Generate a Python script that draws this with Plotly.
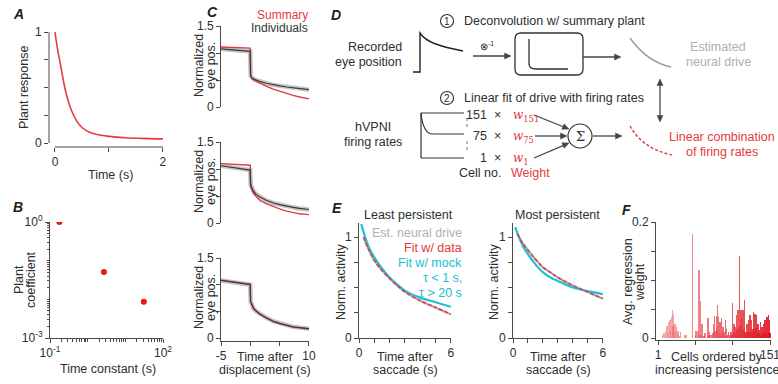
import math
import plotly.graph_objects as go

W, H = 778, 384
RED = "#e53a40"
TXT = "#2e2e2e"
AX = "#4a4a4a"
GREY = "#b0b0b0"
CYAN = "#22bdd6"
FONT = "Liberation Sans, Arial, sans-serif"

# ---------------- data ----------------
# A: plant impulse response
a_time = [0, 0.05, 0.1, 0.2, 0.3, 0.4, 0.5, 0.65, 0.8, 1.0, 1.3, 1.6, 2.0]
a_resp = [1.0, 0.84, 0.71, 0.46, 0.30, 0.20, 0.14, 0.095, 0.075, 0.06, 0.048, 0.042, 0.037]

# B: plant coefficients vs time constants
b_tau = [0.177, 2.7, 31.0]
b_coef = [1.0, 0.051, 0.0087]

# C: eye position, summary vs individuals (3 fish)
c_time = [-5, -0.02, 0.05, 0.25, 0.55, 1.0, 1.65, 2.7, 3.9, 5.0, 6.2, 7.3, 8.4, 10]
c_summary_1 = [1.11, 1.09, 0.60, 0.53, 0.50, 0.475, 0.44, 0.385, 0.33, 0.29, 0.25, 0.215, 0.185, 0.15]
c_indiv_1 = [1.076, 1.03, 0.58, 0.54, 0.52, 0.495, 0.47, 0.44, 0.41, 0.39, 0.37, 0.355, 0.34, 0.32]
c_summary_2 = [1.10, 1.07, 0.68, 0.62, 0.55, 0.49, 0.42, 0.36, 0.30, 0.26, 0.22, 0.19, 0.17, 0.155]
c_indiv_2 = [1.06, 0.98, 0.71, 0.66, 0.59, 0.53, 0.48, 0.42, 0.37, 0.34, 0.31, 0.29, 0.27, 0.25]
c_summary_3 = [1.085, 1.01, 0.69, 0.63, 0.56, 0.51, 0.45, 0.38, 0.31, 0.27, 0.23, 0.205, 0.19, 0.17]
c_indiv_3 = [1.08, 1.00, 0.68, 0.62, 0.55, 0.50, 0.445, 0.38, 0.315, 0.275, 0.24, 0.21, 0.195, 0.175]

# E: neural drive fits
e_time = [0.3, 0.6, 1, 1.5, 2, 2.5, 3, 4, 5, 6]
e_mock_time = [0.15, 0.4, 0.7, 1, 1.5, 2, 2.5, 3, 4, 5, 6]
e_least_drive = [1.0, 0.885, 0.77, 0.67, 0.59, 0.52, 0.46, 0.37, 0.30, 0.235]
e_least_fit = [1.0, 0.89, 0.77, 0.67, 0.59, 0.52, 0.455, 0.37, 0.305, 0.235]
e_least_mock = [1.13, 1.0, 0.88, 0.80, 0.69, 0.60, 0.53, 0.47, 0.40, 0.355, 0.31]
e_most_drive = [1.03, 0.95, 0.87, 0.78, 0.70, 0.65, 0.60, 0.52, 0.455, 0.39]
e_most_fit = [1.03, 0.95, 0.87, 0.78, 0.70, 0.65, 0.60, 0.52, 0.455, 0.39]
e_most_mock = [1.1, 1.0, 0.90, 0.83, 0.73, 0.65, 0.60, 0.565, 0.50, 0.465, 0.435]

# F: average regression weight per cell (ordered by persistence)
f_cells = list(range(1, 152))
f_weights = [
    0, 0, 0, 0, 0, 0, 0.006, 0, 0.009, 0,
    0.013, 0, 0.02, 0.008, 0.028, 0, 0.031, 0.012, 0.036, 0.049,
    0.02, 0.041, 0.01, 0.025, 0, 0.019, 0.005, 0.013, 0, 0.004,
    0.01, 0, 0, 0, 0, 0, 0.006, 0, 0.006, 0,
    0, 0, 0, 0, 0, 0, 0.18, 0, 0, 0,
    0.004, 0.013, 0, 0.012, 0, 0.117, 0.006, 0.064, 0, 0.025,
    0.004, 0, 0.003, 0.008, 0, 0, 0.004, 0.035, 0.006, 0.01,
    0, 0.005, 0, 0.008, 0.025, 0.01, 0.038, 0.012, 0.038, 0.015,
    0.057, 0.036, 0.01, 0.028, 0.006, 0.034, 0.012, 0.019, 0.005, 0.01,
    0.031, 0.004, 0.016, 0.006, 0.01, 0, 0.006, 0.004, 0.01, 0.005,
    0.06, 0.01, 0.025, 0.019, 0.008, 0.039, 0.015, 0.048, 0.014, 0.142,
    0.02, 0.048, 0.034, 0.012, 0.048, 0.015, 0.065, 0.01, 0.008, 0.025,
    0.012, 0.031, 0.01, 0.039, 0.014, 0.031, 0.01, 0.016, 0.045, 0.012,
    0.041, 0.018, 0.039, 0.01, 0.025, 0.008, 0.014, 0.028, 0.006, 0.019,
    0.01, 0.025, 0.008, 0.031, 0.012, 0.006, 0.036, 0.01, 0.039, 0.031, 0.008,
]

# ---------------- helpers ----------------
def dx(p0, p1):
    return [p0 / W, p1 / W]


def dy(top, bottom):
    return [1 - bottom / H, 1 - top / H]


def axis(domain, rng, labeled=None, unlabeled=None, anchor=None, line=True,
         ticks=True, typ="linear", minor_len=4):
    d = dict(domain=domain, range=rng, showgrid=False, zeroline=False,
             showline=line, linecolor=AX, linewidth=1, fixedrange=True,
             automargin=False, type=typ, anchor=anchor,
             tickfont=dict(size=12, color=TXT, family=FONT),
             ticks="outside" if ticks else "", ticklen=4, tickwidth=1,
             tickcolor=AX, ticklabeloverflow="allow")
    if labeled is not None:
        d.update(tickmode="array", tickvals=[v for v, _ in labeled],
                 ticktext=[t for _, t in labeled])
    if unlabeled and ticks:
        d["minor"] = dict(ticks="outside", ticklen=minor_len, tickwidth=1,
                          tickcolor=AX, tickmode="array", tickvals=unlabeled,
                          showgrid=False)
    if not ticks:
        d.update(showticklabels=False)
    return d


fig = go.Figure()


def line_trace(x, y, xa, ya, color, width, dash=None, shape="linear"):
    fig.add_trace(go.Scatter(x=x, y=y, xaxis=xa, yaxis=ya, mode="lines",
                             line=dict(color=color, width=width, dash=dash,
                                       shape=shape),
                             showlegend=False, hoverinfo="skip"))


# A
line_trace(a_time, a_resp, "x", "y", RED, 1.6, shape="spline")
# B
fig.add_trace(go.Scatter(x=b_tau, y=b_coef, xaxis="x2", yaxis="y2", mode="markers",
                         marker=dict(color="#e8161c", size=6), showlegend=False,
                         hoverinfo="skip"))
# C
for i, (summ, ind) in enumerate([(c_summary_1, c_indiv_1),
                                 (c_summary_2, c_indiv_2),
                                 (c_summary_3, c_indiv_3)]):
    xa, ya = f"x{3 + i}", f"y{3 + i}"
    line_trace(c_time, ind, xa, ya, "rgba(150,150,150,0.55)", 4.5)
    line_trace(c_time, summ, xa, ya, RED, 1.4)
    line_trace(c_time, ind, xa, ya, "#3a3a3a", 1.2)
# E
for xa, ya, drive, fit, mock in [("x6", "y6", e_least_drive, e_least_fit, e_least_mock),
                                 ("x7", "y7", e_most_drive, e_most_fit, e_most_mock)]:
    line_trace(e_time, drive, xa, ya, GREY, 2.2, shape="spline")
    line_trace(e_mock_time, mock, xa, ya, CYAN, 2.2, shape="spline")
    line_trace(e_time, fit, xa, ya, RED, 1.5, dash="4px,2px", shape="spline")
# F
n = len(f_cells)
bar_colors = []
for i in range(n):
    f = i / (n - 1)
    r = int(240 - 18 * f)
    g = int(120 - 100 * f)
    b = int(125 - 95 * f)
    a = 0.6 + 0.3 * f
    bar_colors.append(f"rgba({r},{g},{b},{a:.2f})")
fig.add_trace(go.Bar(x=f_cells, y=f_weights, xaxis="x8", yaxis="y8",
                     marker=dict(color=bar_colors, line=dict(width=0)),
                     width=1.9, showlegend=False, hoverinfo="skip"))
# overlay dummy
fig.add_trace(go.Scatter(x=[0], y=[0], xaxis="x9", yaxis="y9", mode="markers",
                         marker=dict(opacity=0), showlegend=False, hoverinfo="skip"))

lay = {}
# A
lay["xaxis"] = axis(dx(49, 163), [-0.111, 2.001], [(0, "0"), (2, "2")], [1], anchor="y", line=False)
lay["yaxis"] = axis(dy(32, 147), [-0.036, 1.001], [(0, "0"), (1, "1")], [0.25, 0.5, 0.75],
                    anchor="x", line=False)
# B
minor_vals = [m * 10.0 ** k for k in range(-3, 2) for m in range(1, 10)]
lay["xaxis2"] = axis(dx(50, 163), [-1, 2], [(0.1, "10<sup>-1</sup>"), (100, "10<sup>2</sup>")],
                     [v for v in minor_vals if 0.1 < v < 100], anchor="y2", typ="log", minor_len=2.5)
lay["yaxis2"] = axis(dy(222, 338), [-3, 0], [(0.001, "10<sup>-3</sup>"), (1, "10<sup>0</sup>")],
                     [v for v in minor_vals if 0.001 < v < 1], anchor="x2", typ="log", minor_len=2.5)
# C
c_rows = [(26, 107, [0, 1.5]), (142, 223, [0, 1.5]), (258, 341, [-0.056, 1.5])]
for i, (t, b, rng) in enumerate(c_rows):
    k = 3 + i
    bottom = i == 2
    lay[f"xaxis{k}"] = axis(dx(221, 309), [-5, 10.01], [(-5, "-5"), (10, "10")], [0, 5],
                            anchor=f"y{k}", line=bottom, ticks=bottom)
    lay[f"yaxis{k}"] = axis(dy(t, b), rng, [(0, "0"), (1.5, "1.5")], [0.5, 1], anchor=f"x{k}")
# E
for k, (x0, x1) in [(6, (359, 451)), (7, (513, 603))]:
    lay[f"xaxis{k}"] = axis(dx(x0, x1), [0, 6.01], [(0, "0"), (6, "6")], [1, 2, 3, 4, 5],
                            anchor=f"y{k}")
    lay[f"yaxis{k}"] = axis(dy(223, 338), [0, 1.14], [(0, "0"), (1, "1")], [0.25, 0.5, 0.75],
                            anchor=f"x{k}")
# F
lay["xaxis8"] = axis(dx(656, 771), [-1.7, 152.3], [(1, "1"), (151, "151")], [51, 101], anchor="y8")
lay["yaxis8"] = axis(dy(222, 340), [-0.0034, 0.2005], [(0, "0"), (0.2, "0.2")],
                     [0.05, 0.1, 0.15], anchor="x8")
# overlay (pixel coordinates)
lay["xaxis9"] = dict(domain=[0, 1], range=[0, W], visible=False, fixedrange=True, anchor="y9")
lay["yaxis9"] = dict(domain=[0, 1], range=[H, 0], visible=False, fixedrange=True, anchor="x9")

shapes = []
ann = []


def seg(x0, y0, x1, y1, color=TXT, width=1.2, dash=None):
    shapes.append(dict(type="line", xref="x9", yref="y9", x0=x0, y0=y0, x1=x1, y1=y1,
                       line=dict(color=color, width=width, dash=dash)))


def path(p, color=TXT, width=1.2, dash=None, fill=None):
    d = dict(type="path", xref="x9", yref="y9", path=p,
             line=dict(color=color, width=width, dash=dash))
    if fill:
        d["fillcolor"] = fill
    shapes.append(d)


def circ(cx, cy, r, color=TXT, width=1.1):
    shapes.append(dict(type="circle", xref="x9", yref="y9", x0=cx - r, x1=cx + r,
                       y0=cy - r, y1=cy + r, line=dict(color=color, width=width)))


def text(s, x, y, size=12.5, color=TXT, angle=0, xanchor="center", family=FONT):
    ann.append(dict(text=s, x=x, y=y, xref="x9", yref="y9", showarrow=False,
                    xanchor=xanchor, yanchor="middle", textangle=angle,
                    font=dict(size=size, color=color, family=family)))


def head(xt, yt, ux, uy, hl=6.5, hw=3.0, color="#444"):
    bx, by = xt - ux * hl, yt - uy * hl
    px, py = -uy * hw, ux * hw
    path(f"M {xt:.2f} {yt:.2f} L {bx + px:.2f} {by + py:.2f} L {bx - px:.2f} {by - py:.2f} Z",
         color=color, width=0.5, fill=color)


def arrow(x0, y0, x1, y1, both=False, color="#444"):
    L = math.hypot(x1 - x0, y1 - y0)
    ux, uy = (x1 - x0) / L, (y1 - y0) / L
    s0 = (x0 + ux * 4, y0 + uy * 4) if both else (x0, y0)
    seg(s0[0], s0[1], x1 - ux * 4, y1 - uy * 4, color=color, width=1.3)
    head(x1, y1, ux, uy, color=color)
    if both:
        head(x0, y0, -ux, -uy, color=color)


# A spines (offset)
shapes.append(dict(type="line", xref="paper", yref="y", x0=49 / W, x1=49 / W, y0=0, y1=1,
                   line=dict(color=AX, width=1)))
shapes.append(dict(type="line", xref="x", yref="paper", x0=0, x1=2, y0=1 - 147 / H, y1=1 - 147 / H,
                   line=dict(color=AX, width=1)))

# panel letters
for L, x, y in [("A", 18, 14), ("B", 18, 207), ("C", 212, 12), ("D", 336, 15),
                ("E", 337, 208), ("F", 626, 210)]:
    text(f"<b><i>{L}</i></b>", x, y, size=14, color="#222")

# axis titles
text("Plant response", 24, 88, angle=-90)
text("Time (s)", 110, 175)
text("Plant", 19, 280, angle=-90)
text("coefficient", 31, 280, angle=-90)
text("Time constant (s)", 108, 369)
for yc in (66, 182, 298):
    text("Normalized", 199, yc, angle=-90)
    text("eye pos.", 211, yc, angle=-90)
text("Time after", 265, 357)
text("displacement (s)", 265, 370)
text("Summary", 310, 15, size=12, color=RED, xanchor="right")
text("Individuals", 310, 28, size=12, color="#333", xanchor="right")
text("Least persistent", 408, 215)
text("Most persistent", 557, 215)
for xc, xt in ((341, 405), (494, 558)):
    text("Norm. activity", xc, 282, angle=-90)
    text("Time after", xt, 357)
    text("saccade (s)", xt, 370)
text("Est. neural drive", 464, 233, color=GREY, xanchor="right")
text("Fit w/ data", 464, 248, color=RED, xanchor="right")
text("Fit w/ mock", 464, 263, color=CYAN, xanchor="right")
text("τ < 1 s,", 464, 278, color=CYAN, xanchor="right")
text("τ > 20 s", 464, 293, color=CYAN, xanchor="right")
text("Avg. regression", 628, 282, angle=-90)
text("weight", 640, 282, angle=-90)
text("Cells ordered by", 717, 357)
text("increasing persistence", 717, 370)

# ---------------- panel D diagram ----------------
circ(447, 21, 6.5)
text("1", 447, 21, size=10)
text("Deconvolution w/ summary plant", 462, 21, xanchor="left")
text("Recorded", 404, 47, xanchor="right")
text("eye position", 404, 62, xanchor="right")
path("M 413 72 L 420 72 L 420 33 C 426 42 438 46 463 51", color="#222", width=1.4)
arrow(473, 56, 511, 56)
text("⊗<sup>-1</sup>", 487, 46, size=10)
path("M 521 33 L 577 33 Q 583 33 583 39 L 583 69 Q 583 75 577 75 L 521 75 "
     "Q 515 75 515 69 L 515 39 Q 515 33 521 33 Z", color="#333", width=1.3)
path("M 529 39 L 529 64 Q 529 69 536 69 L 568 69", color="#333", width=1.3)
arrow(583, 57, 621, 57)
path("M 630 38 C 640 52 652 63 671 67", color="#999", width=1.4)
text("Estimated", 718, 47, color=GREY)
text("neural drive", 718, 62, color=GREY)
arrow(660, 79, 660, 122, both=True)

circ(447, 98, 6.5)
text("2", 447, 98, size=10)
text("Linear fit of drive with firing rates", 462, 98, xanchor="left")
text("hVPNI", 373, 127)
text("firing rates", 373, 142)
seg(421, 113, 421, 158, color="#333")
seg(421, 113, 464, 113, color="#333")
path("M 421 113 Q 423 134 433 134 L 464 134", color="#333", width=1.2)
seg(421, 158, 464, 158, color="#333")
seg(467, 118, 467, 130, color="#777", width=1, dash="dot")
seg(467, 141, 467, 153, color="#777", width=1, dash="dot")
for num, yy in (("151", 115), ("75", 136), ("1", 158)):
    text(num, 489, yy, xanchor="right")
    text("×", 497, yy)
    text(f"<i>w</i><sub>{num}</sub>", 511, yy + 1, color=RED, xanchor="left",
         family="DejaVu Serif, serif", size=12)
text("Cell no.", 480, 173)
text("Weight", 530, 173, color=RED)
arrow(534, 115, 569, 129)
arrow(535, 136, 567, 136)
arrow(534, 158, 569, 143)
circ(580, 136, 12)
text("Σ", 580, 136, size=13, family="DejaVu Serif, serif")
arrow(593, 136, 622, 136)
path("M 630 126 C 638 140 650 150 672 155", color=RED, width=1.5, dash="3px,2px")
text("Linear combination", 722, 137, color=RED)
text("of firing rates", 722, 152, color=RED)

fig.update_layout(width=W, height=H, margin=dict(l=0, r=0, t=0, b=0),
                  paper_bgcolor="white", plot_bgcolor="rgba(0,0,0,0)",
                  font=dict(family=FONT, size=12, color=TXT),
                  shapes=shapes, annotations=ann, bargap=0, barmode="overlay", **lay)
fig.write_html("out.html")
